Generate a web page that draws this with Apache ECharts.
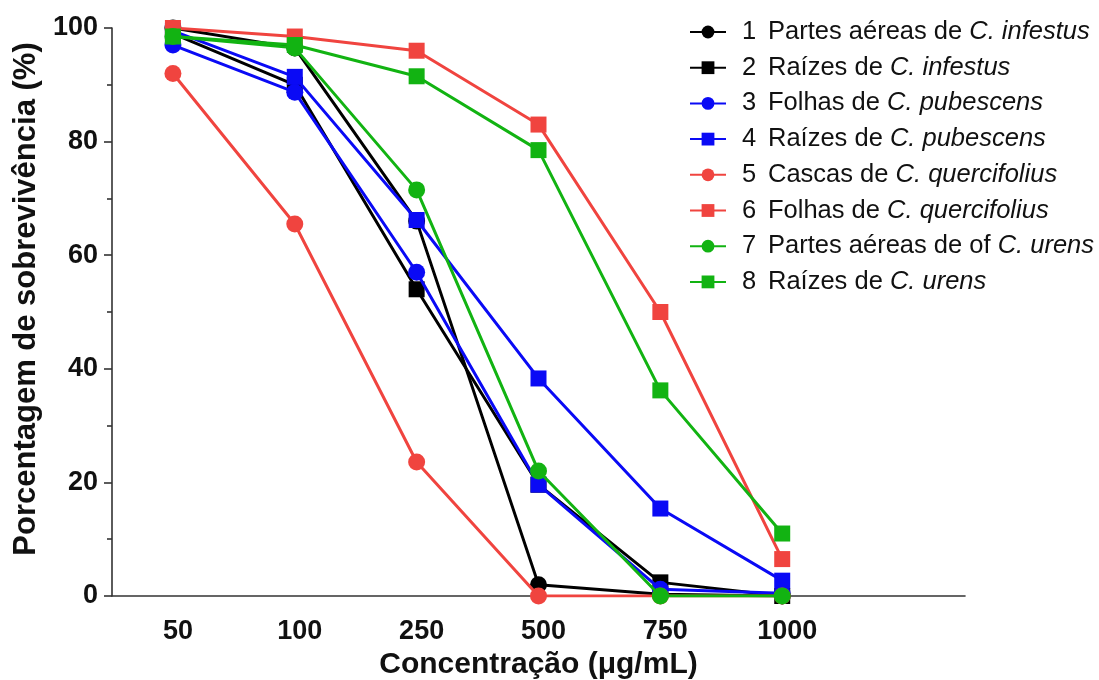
<!DOCTYPE html>
<html>
<head>
<meta charset="utf-8">
<script src="https://cdn.jsdelivr.net/npm/echarts@6/dist/echarts.min.js"></script>
<style>
html,body{margin:0;padding:0;background:#fff;}
#c{width:1099px;height:680px;}
</style>
</head>
<body>
<div id="c"></div>
<script>
// Categories (last one blank: empty slot at the right end of the axis)
var categories = ['50', '100', '250', '500', '750', '1000', ''];

// Series values (% survival)
var s1 = [100, 96.5, 66, 2, 0.3, 0];        // Partes aéreas de C. infestus
var s2 = [99, 90, 54, 19.6, 2.4, 0];        // Raízes de C. infestus
var s3 = [97, 88.7, 57, 19.6, 1.2, 0.5];    // Folhas de C. pubescens
var s4 = [99.5, 91.4, 66.2, 38.3, 15.4, 2.7]; // Raízes de C. pubescens
var s5 = [92, 65.5, 23.6, 0, 0, 0];         // Cascas de C. quercifolius
var s6 = [100, 98.5, 96, 83, 50, 6.5];      // Folhas de C. quercifolius
var s7 = [98.5, 96.5, 71.5, 22, 0, 0];      // Partes aéreas de of C. urens
var s8 = [98.5, 97, 91.5, 78.5, 36.2, 11];  // Raízes de C. urens

var yTicks = [0, 20, 40, 60, 80, 100];

var names = ['1', '2', '3', '4', '5', '6', '7', '8'];
var prefixes = ['Partes aéreas de ', 'Raízes de ', 'Folhas de ', 'Raízes de ',
                'Cascas de ', 'Folhas de ', 'Partes aéreas de of ', 'Raízes de '];
var species = ['C. infestus', 'C. infestus', 'C. pubescens', 'C. pubescens',
               'C. quercifolius', 'C. quercifolius', 'C. urens', 'C. urens'];

var BLACK = '#000000', BLUE = '#0a0af5', RED = '#f0443f', GREEN = '#12b312';
var colors = [BLACK, BLACK, BLUE, BLUE, RED, RED, GREEN, GREEN];
var symbols = ['circle', 'rect', 'circle', 'rect', 'circle', 'rect', 'circle', 'rect'];
var values = [s1, s2, s3, s4, s5, s6, s7, s8];

var series = values.map(function (vals, i) {
  var data = vals.map(function (v, j) {
    // in the figure the point of series 3 at 500 is drawn as a square
    if (i === 2 && j === 3) return { value: v, symbol: 'rect', symbolSize: 16 };
    return v;
  });
  return {
    name: names[i],
    type: 'line',
    data: data,
    symbol: symbols[i],
    symbolSize: symbols[i] === 'rect' ? 16 : 17,
    color: colors[i],
    itemStyle: { color: colors[i], opacity: 1 },
    lineStyle: { color: colors[i], width: 3 },
    emphasis: { disabled: true },
    z: 2 + i
  };
});

var FONT = '"Liberation Sans", Arial, Helvetica, sans-serif';

var chart = echarts.init(document.getElementById('c'), null, { renderer: 'canvas' });
chart.setOption({
  animation: false,
  backgroundColor: '#ffffff',
  grid: { left: 112, right: 134, top: 28, bottom: 84, containLabel: false, outerBoundsMode: 'none' },
  legend: {
    orient: 'vertical',
    left: 684,
    top: 14,
    itemWidth: 36,
    itemHeight: 16,
    itemGap: 9.7,
    selectedMode: false,
    data: names,
    formatter: function (n) {
      var i = names.indexOf(n);
      return '{n|' + n + '}{t|' + prefixes[i] + '}{i|' + species[i] + '}';
    },
    textStyle: {
      fontFamily: FONT,
      fontSize: 25.5,
      lineHeight: 26,
      color: '#111',
      rich: {
        n: { fontFamily: FONT, fontSize: 25.5, color: '#111', width: 26, padding: [0, 0, 0, 11], lineHeight: 26 },
        t: { fontFamily: FONT, fontSize: 25.5, color: '#111', lineHeight: 26 },
        i: { fontFamily: FONT, fontSize: 25.5, color: '#111', fontStyle: 'italic', lineHeight: 26 }
      }
    }
  },
  xAxis: {
    type: 'category',
    data: categories,
    boundaryGap: true,
    name: 'Concentração (μg/mL)',
    nameLocation: 'middle',
    nameGap: 49,
    nameTextStyle: { fontFamily: FONT, fontSize: 30, fontWeight: 'bold', color: '#111' },
    axisLine: { lineStyle: { color: '#333', width: 1.6 } },
    axisTick: {
      alignWithLabel: true,
      length: 8,
      lineStyle: { color: '#333', width: 1.6 },
      interval: function (idx, val) { return val !== ''; }
    },
    axisLabel: {
      margin: 22,
      padding: [0, 0, 0, 10],
      fontFamily: FONT,
      fontSize: 27,
      fontWeight: 'bold',
      color: '#111',
      interval: 0
    },
    splitLine: { show: false }
  },
  yAxis: {
    type: 'value',
    min: yTicks[0],
    max: yTicks[yTicks.length - 1],
    interval: 20,
    name: 'Porcentagem de sobrevivência (%)',
    nameLocation: 'middle',
    nameGap: 67,
    nameRotate: 90,
    nameTextStyle: { fontFamily: FONT, fontSize: 31, fontWeight: 'bold', color: '#111', padding: [0, 0, 0, 26] },
    axisLine: { show: true, lineStyle: { color: '#333', width: 1.6 } },
    axisTick: { show: true, length: 8, lineStyle: { color: '#333', width: 1.6 } },
    minorTick: { show: true, splitNumber: 2, length: 5, lineStyle: { color: '#333', width: 1.6 } },
    axisLabel: {
      margin: 14,
      fontFamily: FONT,
      fontSize: 27,
      fontWeight: 'bold',
      color: '#111'
    },
    splitLine: { show: false }
  },
  series: series
});
</script>
</body>
</html>
